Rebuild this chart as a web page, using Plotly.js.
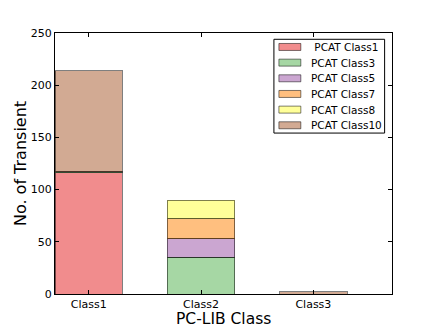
<!DOCTYPE html>
<html>
<head>
<meta charset="utf-8">
<script src="https://cdn.plot.ly/plotly-3.0.1.min.js"></script>
<style>html,body{margin:0;padding:0;background:#fff;}#chart{width:436px;height:327px;}</style>
</head>
<body>
<div id="chart"></div>
<script>
const categories = ['Class1', 'Class2', 'Class3'];
const seriesNames = [' PCAT Class1', 'PCAT Class3', 'PCAT Class5', 'PCAT Class7', 'PCAT Class8', 'PCAT Class10'];
const pcatClass1 = [116, null, null];
const pcatClass3 = [1, 35, null];
const pcatClass5 = [null, 18, null];
const pcatClass7 = [null, 19, null];
const pcatClass8 = [null, 18, null];
const pcatClass10 = [97, null, 2];
const yTicks = [0, 50, 100, 150, 200, 250];
const xTitle = 'PC-LIB Class';
const yTitle = 'No. of Transient';

const colors = ['rgba(228,26,28,0.5)', 'rgba(77,175,74,0.5)', 'rgba(152,78,163,0.5)',
                'rgba(255,127,0,0.5)', 'rgba(255,255,51,0.5)', 'rgba(166,86,40,0.5)'];
const series = [pcatClass1, pcatClass3, pcatClass5, pcatClass7, pcatClass8, pcatClass10];

const traces = series.map((vals, i) => ({
  type: 'bar',
  name: seriesNames[i],
  x: categories,
  y: vals,
  width: 0.6,
  showlegend: false,
  marker: {color: colors[i], line: {color: 'rgba(0,0,0,0.5)', width: 1}}
}));

// plot area in pixels (matplotlib default subplot params)
const W = 436, H = 327;
const mL = 54.5, mR = 43.6, mT = 32.7, mB = 32.7;
const pw = W - mL - mR, ph = H - mT - mB;
const px = x => (x - mL) / pw;
const py = y => (H - mB - y) / ph;

// legend drawn as shapes + text annotations
const shapes = [{
  type: 'rect', xref: 'paper', yref: 'paper',
  x0: px(274), x1: px(385), y0: py(133), y1: py(39),
  fillcolor: '#fff', line: {color: '#000', width: 1}, layer: 'above'
}];
const annotations = [];
seriesNames.forEach((name, i) => {
  const yc = 46.7 + 15.7 * i;
  shapes.push({
    type: 'rect', xref: 'paper', yref: 'paper',
    x0: px(279), x1: px(301), y0: py(yc + 3.5), y1: py(yc - 3.5),
    fillcolor: colors[i], line: {color: 'rgba(0,0,0,0.5)', width: 1}, layer: 'above'
  });
  annotations.push({
    xref: 'paper', yref: 'paper', x: px(309), y: py(yc),
    xanchor: 'left', yanchor: 'middle', showarrow: false,
    text: name.replace(/^ /, '\u00a0'),
    font: {family: 'DejaVu Sans', size: 10.5, color: '#000'}
  });
});
// x-axis title as text annotation (placed like the reference)
annotations.push({
  xref: 'paper', yref: 'paper', x: 0.5, y: py(319.5),
  xanchor: 'center', yanchor: 'middle', showarrow: false,
  text: xTitle,
  font: {family: 'DejaVu Sans', size: 15.5, color: '#000'}
});

const font = {family: 'DejaVu Sans', color: '#000'};
const layout = {
  width: W, height: H,
  margin: {l: mL, r: mR, t: mT, b: mB},
  paper_bgcolor: '#fff', plot_bgcolor: '#fff',
  barmode: 'stack',
  bargap: 0,
  showlegend: false,
  font: {family: 'DejaVu Sans', size: 11, color: '#000'},
  xaxis: {
    type: 'category', range: [-0.3, 2.7],
    showgrid: false, zeroline: false,
    showline: true, linecolor: '#000', linewidth: 1, mirror: 'ticks',
    ticks: 'inside', ticklen: 4, tickcolor: '#000',
    tickfont: Object.assign({size: 11}, font)
  },
  yaxis: {
    range: [0, 250], tickvals: yTicks, ticktext: yTicks.map(String),
    showgrid: false, zeroline: false,
    showline: true, linecolor: '#000', linewidth: 1, mirror: 'ticks',
    ticks: 'inside', ticklen: 4, tickcolor: '#000',
    tickfont: Object.assign({size: 11}, font),
    title: {text: yTitle, font: Object.assign({size: 16}, font), standoff: 0}
  },
  shapes: shapes,
  annotations: annotations
};

Plotly.newPlot('chart', traces, layout, {displayModeBar: false, staticPlot: true});
</script>
</body>
</html>
